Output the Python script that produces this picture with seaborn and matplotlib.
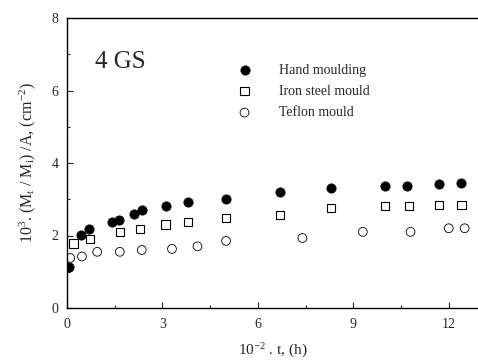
import matplotlib
matplotlib.use("Agg")
import matplotlib.pyplot as plt
import seaborn as sns
import pandas as pd
from matplotlib.ticker import MultipleLocator

# Data
hand_t = [0.06, 0.45, 0.7, 1.4, 1.65, 2.1, 2.35, 3.1, 3.8, 5.0, 6.7, 8.3, 10.0, 10.7, 11.7, 12.4]
hand_y = [1.13, 2.02, 2.17, 2.37, 2.43, 2.6, 2.7, 2.81, 2.92, 3.0, 3.2, 3.31, 3.37, 3.37, 3.42, 3.44]

iron_t = [0.2, 0.72, 1.66, 2.3, 3.1, 3.8, 5.0, 6.7, 8.3, 10.0, 10.75, 11.7, 12.4]
iron_y = [1.78, 1.9, 2.1, 2.18, 2.3, 2.37, 2.48, 2.57, 2.75, 2.81, 2.81, 2.84, 2.84]

teflon_t = [0.1, 0.47, 0.95, 1.66, 2.35, 3.3, 4.1, 5.0, 7.4, 9.3, 10.8, 12.0, 12.5]
teflon_y = [1.38, 1.42, 1.55, 1.55, 1.6, 1.63, 1.7, 1.85, 1.93, 2.1, 2.1, 2.2, 2.2]

labels = ["Hand moulding", "Iron steel mould", "Teflon mould"]

sns.set_style("ticks")
plt.rcParams["font.family"] = ["Liberation Serif", "DejaVu Serif"]
plt.rcParams["mathtext.fontset"] = "custom"
plt.rcParams["mathtext.rm"] = "Liberation Serif"
plt.rcParams["mathtext.it"] = "Liberation Serif"

fig = plt.figure(figsize=(4.78, 3.61), dpi=100)
ax = fig.add_axes([67/478, 53/361, 411/478, 290/361])

df_h = pd.DataFrame({"t": hand_t, "y": hand_y})
df_i = pd.DataFrame({"t": iron_t, "y": iron_y})
df_f = pd.DataFrame({"t": teflon_t, "y": teflon_y})

sns.scatterplot(data=df_h, x="t", y="y", ax=ax, marker="o", s=45,
                color="black", edgecolor="black", linewidth=0.5, label=labels[0])
sns.scatterplot(data=df_i, x="t", y="y", ax=ax, marker="s", s=36,
                facecolors="none", edgecolors="black", linewidth=0.8, label=labels[1])
sns.scatterplot(data=df_f, x="t", y="y", ax=ax, marker="o", s=40,
                facecolors="none", edgecolors="black", linewidth=0.6, label=labels[2])

ax.set_xlim(0, 12.92)
ax.set_ylim(0, 8)
ax.xaxis.set_major_locator(MultipleLocator(3))
ax.xaxis.set_minor_locator(MultipleLocator(1.5))
ax.yaxis.set_major_locator(MultipleLocator(2))
ax.yaxis.set_minor_locator(MultipleLocator(1))
ax.tick_params(which="both", direction="in", labelsize=10, width=0.8)
ax.tick_params(which="major", length=4)
ax.tick_params(axis="x", which="major", pad=7)
ax.tick_params(axis="y", which="major", pad=6)
ax.tick_params(which="minor", length=2.5)
for side in ["left", "bottom", "top"]:
    ax.spines[side].set_linewidth(1.0)
    ax.spines[side].set_color("black")
ax.spines["right"].set_visible(False)

ax.set_xlabel("10$^{-2}$ . t, (h)", fontsize=11, labelpad=8)
ax.set_ylabel("10$^{3}$. (M$_t$ / M$_i$) /A, (cm$^{-2}$)", fontsize=11.5, labelpad=10)

ax.text(0.88, 6.8, "4 GS", fontsize=18, va="center", ha="left")

leg = ax.legend(loc="upper left", bbox_to_anchor=((232-67)/411, (308-58)/290),
                frameon=False, fontsize=10, handletextpad=2.0, labelspacing=0.6,
                borderaxespad=0, handlelength=1.0)

fig.savefig("out.png", dpi=100)
